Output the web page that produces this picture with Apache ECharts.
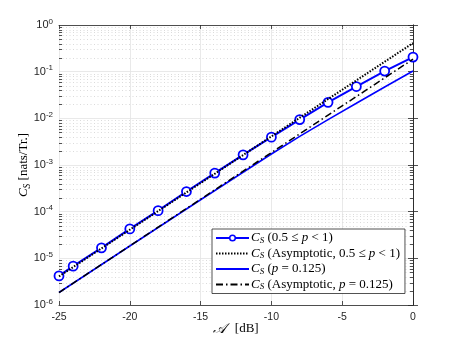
<!DOCTYPE html>
<html>
<head>
<meta charset="utf-8">
<script src="https://cdn.jsdelivr.net/npm/echarts@6/dist/echarts.min.js"></script>
<style>
  html, body { margin: 0; padding: 0; background: #fff; }
  #chart { width: 457px; height: 343px; }
</style>
</head>
<body>
<div id="chart"></div>
<script>
// A [dB] for the marked curve and its values
const dbMarked = [-25, -24, -22, -20, -18, -16, -14, -12, -10, -8, -6, -4, -2, 0];
const csHigh = [4.2e-6, 6.8e-6, 1.68e-5, 4.27e-5, 1.05e-4, 2.7e-4, 6.7e-4, 1.65e-3, 3.95e-3, 9.4e-3, 0.022, 0.048, 0.103, 0.205];

// asymptotic lines (straight on log scale)
const dbAsym = [-25, -20, -15, -10, -5, 0];
const csHighAsym = [4.1e-6, 4.1e-5, 4.1e-4, 4.1e-3, 4.1e-2, 0.41];
const csLowAsym = [1.85e-6, 1.85e-5, 1.85e-4, 1.85e-3, 1.85e-2, 0.185];

// p = 0.125 curve
const dbLow = [-25, -20, -15, -12, -10, -8, -6, -4, -2, 0];
const csLow = [1.85e-6, 1.84e-5, 1.8e-4, 7.0e-4, 1.72e-3, 4.1e-3, 9.4e-3, 0.021, 0.047, 0.103];

const zip = (xs, ys) => xs.map((x, i) => [x, ys[i]]);

const names = [
  '{i|C}{s|S} (0.5 ≤ {i|p} < 1)',
  '{i|C}{s|S} (Asymptotic, 0.5 ≤ {i|p} < 1)',
  '{i|C}{s|S} ({i|p} = 0.125)',
  '{i|C}{s|S} (Asymptotic, {i|p} = 0.125)'
];

const axisColor = '#262626';
const serif = 'Liberation Serif';
const sans = 'Liberation Sans';

// minor positions of the log y axis (2..9 of each decade)
let minorVals = [];
for (let e = -6; e < 0; e++) {
  for (let k = 2; k <= 9; k++) {
    minorVals.push([-25, k * Math.pow(10, e)]);
  }
}

const richText = {
  i: { fontFamily: serif, fontStyle: 'italic', fontSize: 13, lineHeight: 13, color: '#000' },
  s: { fontFamily: serif, fontStyle: 'italic', fontSize: 9, lineHeight: 13, color: '#000', padding: [5, 0, 0, 0] },
  n: { fontFamily: serif, fontSize: 13, lineHeight: 13, color: '#000' }
};

const chart = echarts.init(document.getElementById('chart'));
chart.setOption({
  animation: false,
  backgroundColor: '#fff',
  grid: { left: 59, top: 25, width: 354, height: 280 },
  legend: {
    orient: 'vertical',
    left: 212,
    top: 229,
    data: [
      { name: names[0], itemStyle: { borderWidth: 1.5 } },
      { name: names[1], itemStyle: { opacity: 0 } },
      { name: names[2], itemStyle: { opacity: 0 } },
      { name: names[3], itemStyle: { opacity: 0 } }
    ],
    itemWidth: 33,
    itemHeight: 7,
    itemGap: 1.5,
    padding: [2, 5, 2, 3],
    backgroundColor: '#fff',
    borderColor: axisColor,
    borderWidth: 0.8,
    borderRadius: 0,
    formatter: n => n,
    textStyle: {
      fontFamily: serif,
      fontSize: 13,
      lineHeight: 13,
      color: '#000',
      padding: [0, 0, 0, -3],
      rich: richText
    }
  },
  xAxis: [{
    type: 'value',
    min: -25,
    max: 0,
    interval: 5,
    name: '{a|𝒜}  [dB]',
    nameLocation: 'middle',
    nameGap: 17,
    nameMoveOverlap: false,
    nameTextStyle: {
      fontFamily: serif,
      fontSize: 13,
      color: '#000',
      rich: { a: { fontFamily: 'DejaVu Serif', fontStyle: 'italic', fontSize: 14, color: '#000', padding: [0, 2, 0, 0] } }
    },
    axisLine: { show: true, lineStyle: { color: axisColor, width: 0.8 } },
    axisTick: { show: true, inside: true, length: 4, lineStyle: { color: axisColor, width: 0.8 } },
    axisLabel: { color: axisColor, fontFamily: sans, fontSize: 10.5, margin: 7 },
    splitLine: { show: true, lineStyle: { color: '#e3e3e3', width: 0.8 } }
  }, {
    type: 'value',
    position: 'top',
    min: -25,
    max: 0,
    interval: 5,
    axisLine: { show: true, lineStyle: { color: axisColor, width: 0.8 } },
    axisTick: { show: true, inside: true, length: 4, lineStyle: { color: axisColor, width: 0.8 } },
    axisLabel: { show: false },
    splitLine: { show: false }
  }],
  yAxis: [{
    type: 'log',
    logBase: 10,
    min: 1e-6,
    max: 1,
    name: '{i|C}{s|S} [nats/Tr.]',
    nameLocation: 'middle',
    nameRotate: 90,
    nameGap: 27,
    nameMoveOverlap: false,
    nameTextStyle: {
      fontFamily: serif,
      fontSize: 13,
      color: '#000',
      rich: {
        i: { fontFamily: serif, fontStyle: 'italic', fontSize: 13, color: '#000' },
        s: { fontFamily: serif, fontStyle: 'italic', fontSize: 9.5, color: '#000', padding: [6, 0, 0, 0] }
      }
    },
    axisLine: { show: true, lineStyle: { color: axisColor, width: 0.8 } },
    axisTick: { show: true, inside: true, length: 5, lineStyle: { color: axisColor, width: 0.8 } },
    axisLabel: {
      margin: 6,
      formatter: v => '{b|10}{e|' + Math.round(Math.log10(v)) + '}',
      rich: {
        b: { fontFamily: sans, fontSize: 11, color: axisColor },
        e: { fontFamily: sans, fontSize: 8, color: axisColor, padding: [0, 0, 7, 0] }
      }
    },
    splitLine: { show: true, lineStyle: { color: '#e3e3e3', width: 0.8 } }
  }, {
    type: 'log',
    logBase: 10,
    min: 1e-6,
    max: 1,
    position: 'right',
    axisLine: { show: true, lineStyle: { color: axisColor, width: 0.8 } },
    axisTick: { show: true, inside: true, length: 5, lineStyle: { color: axisColor, width: 0.8 } },
    axisLabel: { show: false },
    splitLine: { show: false }
  }],
  series: [
    {
      name: 'minor',
      type: 'custom',
      silent: true,
      data: minorVals,
      z: 1,
      renderItem: (params, api) => {
        const v = api.value(1);
        const p1 = api.coord([-25, v]);
        const p2 = api.coord([0, v]);
        const y = Math.round(p1[1]) + 0.5;
        return {
          type: 'group',
          children: [
            { type: 'line', shape: { x1: p1[0], y1: y, x2: p2[0], y2: y },
              style: { stroke: '#d2d2d2', lineWidth: 0.8, lineDash: [1, 2.5] } },
            { type: 'line', shape: { x1: p1[0], y1: y, x2: p1[0] + 3, y2: y },
              style: { stroke: axisColor, lineWidth: 0.8 } },
            { type: 'line', shape: { x1: p2[0] - 3, y1: y, x2: p2[0], y2: y },
              style: { stroke: axisColor, lineWidth: 0.8 } }
          ]
        };
      }
    },
    {
      name: names[0],
      type: 'line',
      data: zip(dbMarked, csHigh),
      symbol: 'circle',
      symbolSize: 9,
      showAllSymbol: true,
      itemStyle: { color: '#fff', borderColor: '#0000ff', borderWidth: 1.8 },
      lineStyle: { color: '#0000ff', width: 2 },
      z: 3
    },
    {
      name: names[1],
      type: 'line',
      data: zip(dbAsym, csHighAsym),
      symbol: 'none',
      itemStyle: { color: '#000' },
      lineStyle: { color: '#000', width: 2, type: [1.5, 1.5] },
      z: 4
    },
    {
      name: names[2],
      type: 'line',
      data: zip(dbLow, csLow),
      symbol: 'none',
      itemStyle: { color: '#0000ff' },
      lineStyle: { color: '#0000ff', width: 1.6 },
      z: 3
    },
    {
      name: names[3],
      type: 'line',
      data: zip(dbAsym, csLowAsym),
      symbol: 'none',
      itemStyle: { color: '#000' },
      lineStyle: { color: '#000', width: 1.5, type: [7, 3, 1.5, 3] },
      z: 4
    }
  ]
});
</script>
</body>
</html>
